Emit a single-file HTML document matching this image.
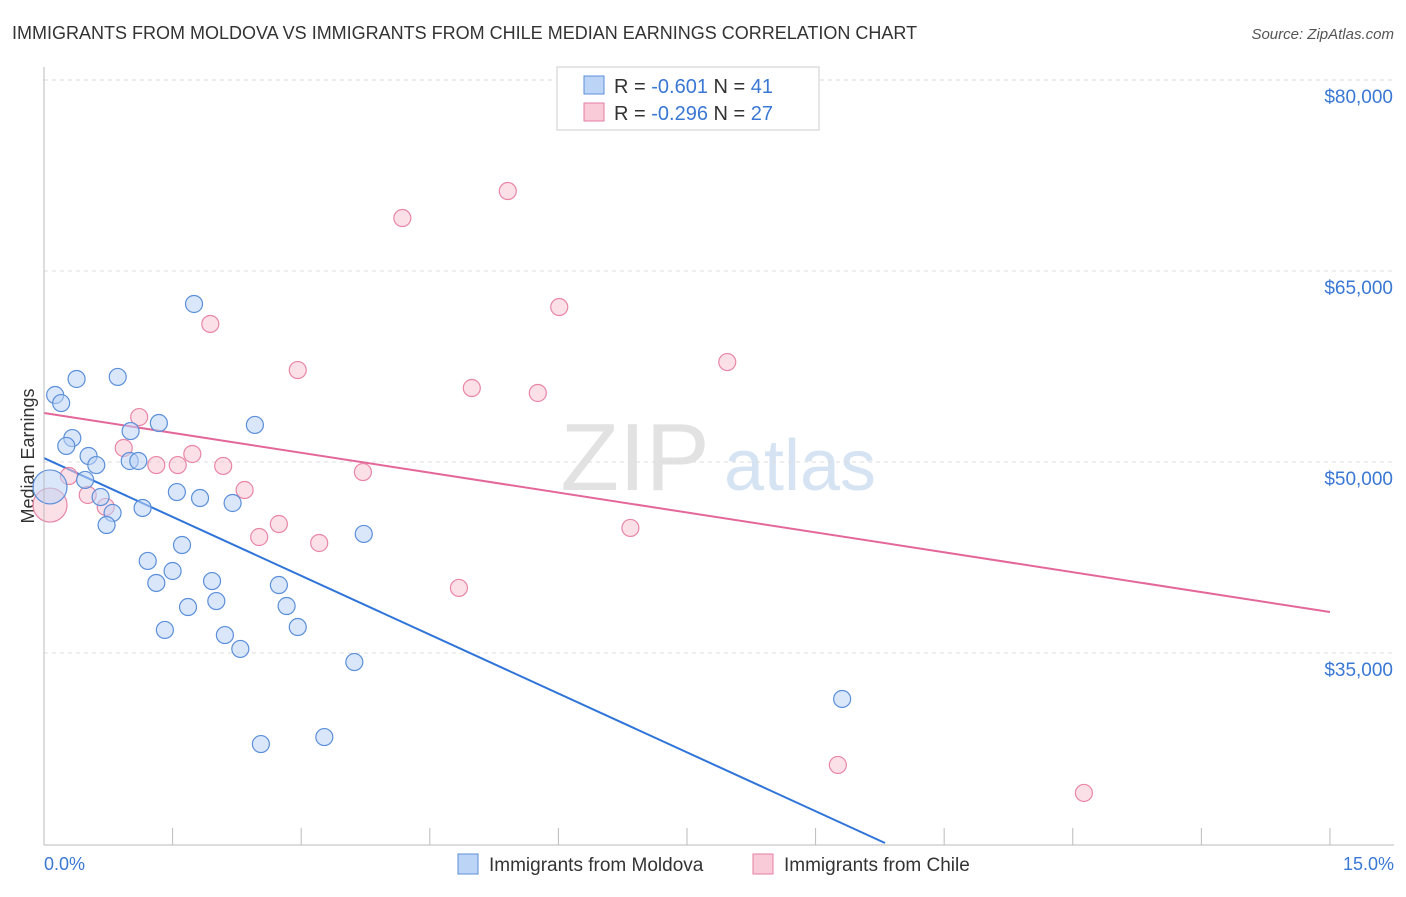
<!DOCTYPE html>
<html><head><meta charset="utf-8"><style>
body{margin:0;background:#fff;font-family:"Liberation Sans",sans-serif;}
svg text{font-family:"Liberation Sans",sans-serif;}
</style></head><body>
<svg id="chart" width="1406" height="892" xmlns="http://www.w3.org/2000/svg">
<text x="12" y="39" font-size="18" fill="#333">IMMIGRANTS FROM MOLDOVA VS IMMIGRANTS FROM CHILE MEDIAN EARNINGS CORRELATION CHART</text>
<text x="1394" y="39" font-size="15" fill="#555" text-anchor="end" font-style="italic">Source: ZipAtlas.com</text>
<g>
<text x="635" y="490" font-size="96" fill="#e2e2e2" text-anchor="middle" font-family="Liberation Serif">ZIP</text>
<text x="800" y="490" font-size="72" fill="#d6e3f3" text-anchor="middle">atlas</text></g>
<text transform="translate(34,456) rotate(-90)" font-size="18" fill="#333" text-anchor="middle">Median Earnings</text>
<g id="grid"></g><g id="ticks"></g><g id="lines"></g><g id="points"></g>
<line x1="44" y1="67" x2="44" y2="845" stroke="#bbb"/>
<line x1="44" y1="845" x2="1394" y2="845" stroke="#bbb"/>
<text x="44" y="870" font-size="18" fill="#3a78d4">0.0%</text>
<text x="1394" y="870" font-size="18" fill="#3a78d4" text-anchor="end">15.0%</text>
<g>
<rect x="557" y="67" width="262" height="63" fill="#fff" stroke="#ccc"/>
<rect x="584" y="76" width="20" height="18" fill="#bcd4f5" stroke="#5b8fd9"/>
<rect x="584" y="103" width="20" height="18" fill="#f9cad8" stroke="#e67fa0"/>
<text x="614" y="93" font-size="20" fill="#333">R = <tspan fill="#3a78d4">-0.601</tspan>   N = <tspan fill="#3a78d4">41</tspan></text>
<text x="614" y="120" font-size="20" fill="#333">R = <tspan fill="#3a78d4">-0.296</tspan>   N = <tspan fill="#3a78d4">27</tspan></text>
</g>
<g><rect x="458" y="854" width="20" height="20" fill="#bcd4f5" stroke="#5b8fd9"/><text x="489" y="871" font-size="19" fill="#333">Immigrants from Moldova</text></g>
<g><rect x="753" y="854" width="20" height="20" fill="#f9cad8" stroke="#e67fa0"/><text x="784" y="871" font-size="19" fill="#333">Immigrants from Chile</text></g>
</svg>
<script>
const yTicks=[80000,65000,50000,35000];
const yTickLabels=["$80,000","$65,000","$50,000","$35,000"];
const xTicks=[0,1.5,3,4.5,6,7.5,9,10.5,12,13.5,15];
const moldovaX=[0.13,0.20,0.38,0.86,0.33,0.26,0.52,0.61,1.00,1.10,1.34,1.01,0.48,0.66,0.80,0.73,1.15,1.55,1.82,2.20,2.46,1.75,1.61,1.21,1.50,1.31,1.96,2.74,1.68,2.01,2.83,1.41,2.11,2.96,2.29,3.62,3.73,9.31,2.53,3.27,0.07];
const moldovaY=[55260,54630,56520,56680,51880,51260,50470,49760,50080,50080,53060,52430,48590,47250,46000,45050,46390,47640,47170,46780,52910,62410,43480,42230,41440,40500,40650,40340,38610,39080,38690,36810,36410,37040,35320,34290,44350,31390,27850,28400,48040];
const chileX=[0.07,0.29,0.51,0.72,0.93,1.11,1.31,1.56,1.73,2.09,2.34,2.51,2.74,3.21,2.96,1.94,4.18,5.41,6.01,4.99,5.76,3.72,7.97,6.84,4.84,9.26,12.13];
const chileY=[46620,48900,47410,46470,51100,53530,49760,49760,50630,49690,47800,44110,45130,43640,57220,60840,69160,71280,62170,55810,55420,49210,57850,44820,40110,26210,24010];
const moldovaTrend=[[0,50310],[9.81,20080]];
const chileTrend=[[0,53850],[15,38220]];
const NS="http://www.w3.org/2000/svg";
const xs=v=>44+v*85.73;
const ys=v=>462-(v-50000)*191/15000;
function mk(tag,attrs,parent){const e=document.createElementNS(NS,tag);for(const k in attrs)e.setAttribute(k,attrs[k]);document.getElementById(parent).appendChild(e);return e;}
yTicks.forEach((t,i)=>{
 const l=mk('line',{x1:44,x2:1394,y1:ys(t),y2:ys(t),stroke:'#ddd','stroke-dasharray':'4,4'},'grid');
 
 
 const tx=mk('text',{x:1393,y:ys(t)+23,'font-size':19,fill:'#3a78d4','text-anchor':'end'},'grid');
 tx.textContent=yTickLabels[i];
 
 
});
xTicks.forEach(t=>{
 const l=mk('line',{x1:xs(t),x2:xs(t),y1:828,y2:845,stroke:'#bbb'},'ticks');
 
 
});
function trend(tr,color,name){
 const l=mk('line',{x1:xs(tr[0][0]),y1:ys(tr[0][1]),x2:xs(tr[1][0]),y2:ys(tr[1][1]),stroke:color,'stroke-width':2},'lines');
 
 
}
function pts(X,Y,fill,stroke,name){
 X.forEach((x,i)=>{
  const big=(i===X.length-1&&name==='moldova-point')||(i===0&&name==='chile-point');
  const c=mk('circle',{cx:xs(x),cy:ys(Y[i]),r:big?17:8.5,fill:fill,'fill-opacity':0.55,stroke:stroke,'stroke-width':1.2},'points');
  
  
 });
}
pts(chileX,chileY,'#f9c6d5','#e886a6','chile-point');
pts(moldovaX,moldovaY,'#bcd4f5','#5b8fd9','moldova-point');
trend(moldovaTrend,'#2f74d8','moldova-trend-line');
trend(chileTrend,'#e4679a','chile-trend-line');
</script>
</body></html>
